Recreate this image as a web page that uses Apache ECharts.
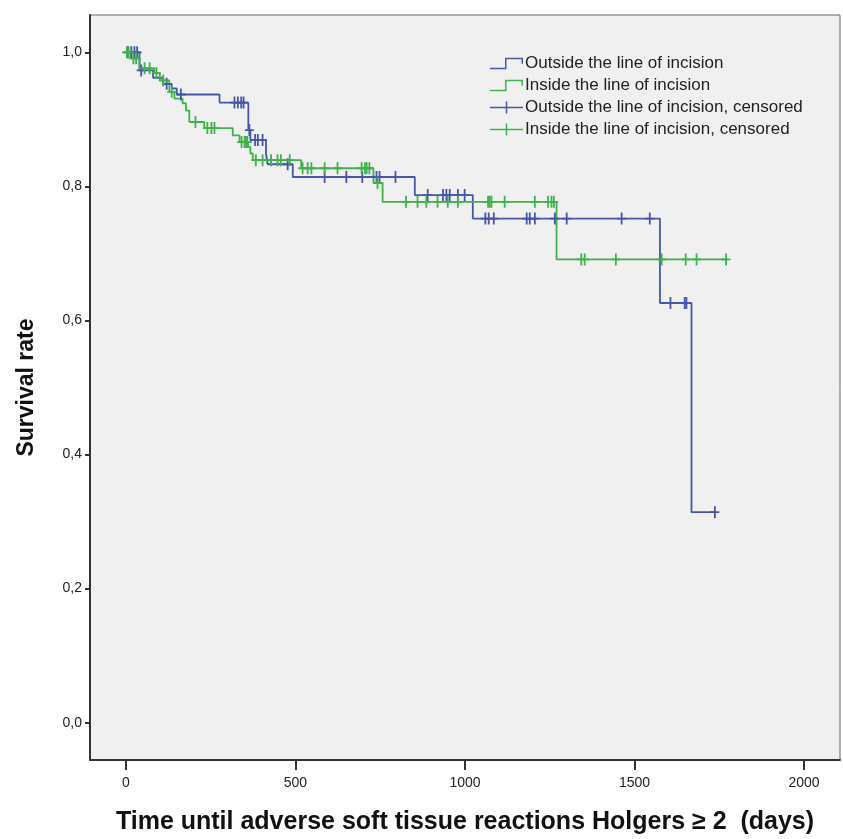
<!DOCTYPE html>
<html>
<head>
<meta charset="utf-8">
<script src="https://cdn.jsdelivr.net/npm/echarts@6/dist/echarts.min.js"></script>
<style>
html,body{margin:0;padding:0;background:#fff;}
#chart{width:843px;height:839px;}
</style>
</head>
<body>
<div id="chart"></div>
<script>
// Kaplan-Meier step curves (time in days, survival rate)
const outsideTimes = [0,40,80,110,135,150,276,361,367,413,418,492,852,1023,1575,1668,1737];
const outsideSurv  = [1.0,0.973,0.962,0.953,0.946,0.937,0.925,0.884,0.869,0.849,0.833,0.814,0.787,0.752,0.626,0.314,0.314];
const outsideCensored = [4,16,25,33,45,120,162,320,330,340,347,364,381,389,403,477,586,650,697,739,748,795,890,935,945,955,979,999,1060,1070,1085,1182,1191,1206,1265,1300,1462,1545,1606,1648,1653,1737];

const insideTimes = [0,15,40,84,100,128,143,167,177,187,231,315,335,360,367,374,517,730,757,1270,1770];
const insideSurv  = [1.0,0.991,0.976,0.969,0.958,0.941,0.931,0.924,0.913,0.896,0.887,0.876,0.866,0.859,0.849,0.839,0.827,0.805,0.777,0.691,0.691];
const insideCensored = [3,8,22,30,55,70,90,110,135,205,240,252,261,341,350,354,358,383,403,428,447,457,483,521,536,547,586,624,695,705,710,718,742,826,860,886,919,949,979,1068,1073,1078,1117,1206,1245,1255,1262,1343,1353,1445,1580,1651,1683,1770];

const xTicks = [0,500,1000,1500,2000];
const yTicks = [0,0.2,0.4,0.6,0.8,1.0];

const seriesNames = ['Outside the line of incision','Inside the line of incision','Outside the line of incision, censored','Inside the line of incision, censored'];

const BLUE = '#4656ad';
const GREEN = '#3fb24b';

function pairs(xs, ys){ return xs.map((x,i)=>[x, ys[i]]); }
function survAt(times, surv, t){
  let v = surv[0];
  for (let i=0;i<times.length;i++){ if (times[i] <= t) v = surv[i]; }
  return v;
}
function censorPts(ct, times, surv){ return ct.map(t=>[t, survAt(times, surv, t)]); }

const plusSym = 'path://M8,0h4v20h-4z M0,8.5h20v3h-20z';
const stepIcon = 'path://M0,10H15V0H33V6H31.5V1.5H16.5V11.5H0Z';
const plusIcon = 'path://M0,5.25H33V6.75H0Z M15.75,0H17.25V12H15.75Z';

const chart = echarts.init(document.getElementById('chart'));
const fontFam = '"Liberation Sans", Arial, sans-serif';
chart.setOption({
  animation: false,
  backgroundColor: '#ffffff',
  grid: {left: 90, top: 15, right: 3, bottom: 79, containLabel: false, outerBoundsMode: 'none',
    show: true, backgroundColor: '#f0f0f0', borderColor: '#666', borderWidth: 1},
  legend: {
    orient: 'vertical', left: 485, top: 50,
    itemWidth: 33, itemHeight: 12, itemGap: 5,
    textStyle: {fontFamily: fontFam, fontSize: 17, color: '#222', padding: [0,0,0,-3]},
    data: [
      {name: seriesNames[0], icon: stepIcon},
      {name: seriesNames[1], icon: stepIcon},
      {name: seriesNames[2], icon: plusIcon},
      {name: seriesNames[3], icon: plusIcon}
    ]
  },
  xAxis: {
    type: 'value', min: -106, max: 2106,
    name: 'Time until adverse soft tissue reactions Holgers \u2265 2  (days)',
    nameLocation: 'middle', nameGap: 50,
    nameTextStyle: {fontFamily: fontFam, fontWeight: 'bold', fontSize: 25, color: '#111'},
    axisLine: {show: true, onZero: false, lineStyle: {color: '#333', width: 2}},
    axisTick: {show: true, length: 10, customValues: xTicks, lineStyle: {color: '#333', width: 2}},
    axisLabel: {customValues: xTicks, margin: 16, fontFamily: fontFam, fontSize: 14, color: '#222',
      formatter: v => String(v)},
    splitLine: {show: false}
  },
  yAxis: {
    type: 'value', min: -0.0556, max: 1.0556,
    name: 'Survival rate', nameLocation: 'middle', nameGap: 52,
    nameTextStyle: {fontFamily: fontFam, fontWeight: 'bold', fontSize: 23, color: '#111'},
    axisLine: {show: true, onZero: false, lineStyle: {color: '#333', width: 2}},
    axisTick: {show: true, length: 5, customValues: yTicks, lineStyle: {color: '#333', width: 2}},
    axisLabel: {customValues: yTicks, margin: 8, fontFamily: fontFam, fontSize: 14, color: '#222',
      formatter: v => v.toFixed(1).replace('.', ',')},
    splitLine: {show: false}
  },
  series: [
    {name: seriesNames[0], type: 'line', step: 'end', data: pairs(outsideTimes, outsideSurv),
      showSymbol: false, symbol: 'none', color: BLUE, itemStyle: {color: BLUE}, lineStyle: {color: BLUE, width: 1.8}, z: 2},
    {name: seriesNames[1], type: 'line', step: 'end', data: pairs(insideTimes, insideSurv),
      showSymbol: false, symbol: 'none', color: GREEN, itemStyle: {color: GREEN}, lineStyle: {color: GREEN, width: 1.8}, z: 3},
    {name: seriesNames[2], type: 'scatter', data: censorPts(outsideCensored, outsideTimes, outsideSurv),
      symbol: plusSym, symbolSize: [9, 12], itemStyle: {color: BLUE, opacity: 1}, z: 4},
    {name: seriesNames[3], type: 'scatter', data: censorPts(insideCensored, insideTimes, insideSurv),
      symbol: plusSym, symbolSize: [9, 12], itemStyle: {color: GREEN, opacity: 1}, z: 5}
  ]
});
</script>
</body>
</html>
